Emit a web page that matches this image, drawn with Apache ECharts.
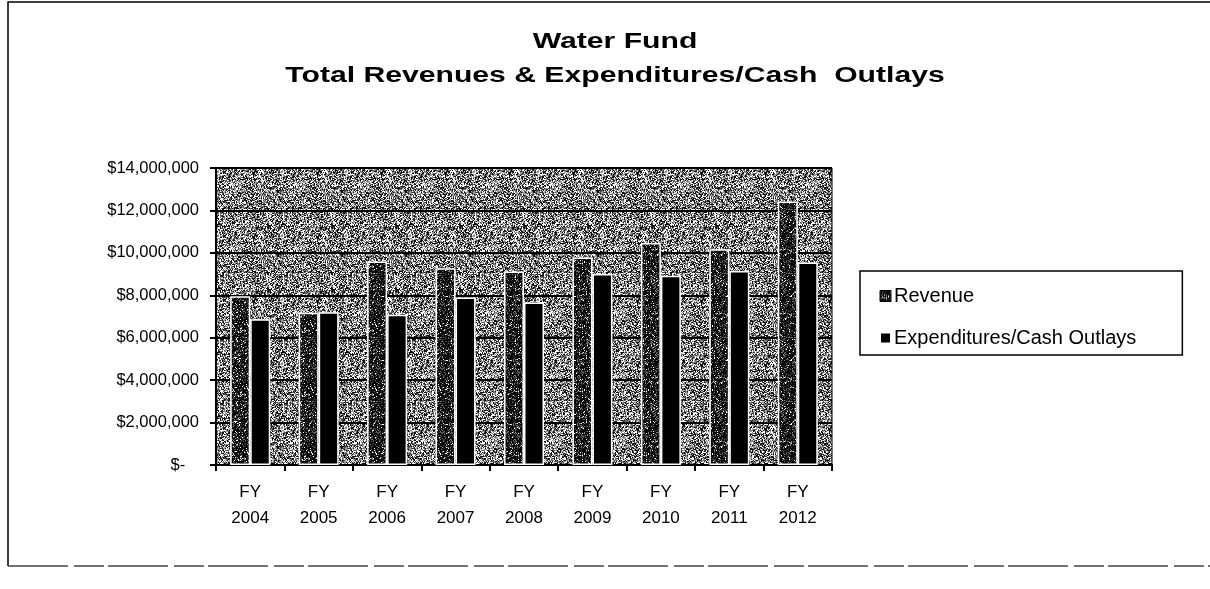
<!DOCTYPE html>
<html>
<head>
<meta charset="utf-8">
<script src="https://cdn.jsdelivr.net/npm/echarts@6/dist/echarts.min.js"></script>
<style>
  html, body { margin: 0; padding: 0; background: #fff; }
  #chart { width: 1210px; height: 589px; }
</style>
</head>
<body>
<div id="chart"></div>
<script>
// Fiscal years shown on the category axis
const fiscalYears = ['FY\n2004', 'FY\n2005', 'FY\n2006', 'FY\n2007', 'FY\n2008',
                     'FY\n2009', 'FY\n2010', 'FY\n2011', 'FY\n2012'];
// Total revenue per fiscal year (USD)
const revenue = [7950000, 7180000, 9590000, 9280000, 9120000, 9780000, 10460000, 10170000, 12420000];
// Expenditures / cash outlays per fiscal year (USD)
const expenditures = [6870000, 7200000, 7080000, 7890000, 7660000, 9000000, 8920000, 9150000, 9540000];
// Value-axis tick values
const yTicks = [0, 2000000, 4000000, 6000000, 8000000, 10000000, 12000000, 14000000];
// Chart heading, one entry per line
const titleLines = ['Water Fund', 'Total Revenues & Expenditures/Cash  Outlays'];

const FONT = '"Liberation Sans", Arial, sans-serif';

// Stippled tiles that imitate the spreadsheet pattern fills.
// A fixed integer hash decides each pixel, so the texture is the same every time.
function hash(x, y) {
  let h = (x * 374761393 + y * 668265263) | 0;
  h = (h ^ (h >>> 13)) * 1274126177 | 0;
  return ((h ^ (h >>> 16)) >>> 0) % 100;
}
function makeTile(size, pick) {
  const c = document.createElement('canvas');
  c.width = size; c.height = size;
  const g = c.getContext('2d');
  for (let y = 0; y < size; y++) {
    for (let x = 0; x < size; x++) {
      g.fillStyle = pick(hash(x, y));
      g.fillRect(x, y, 1, 1);
    }
  }
  return c;
}
const plotTile = makeTile(64, v => v < 28 ? '#ffffff' : v < 52 ? '#9a9a9a' : v < 70 ? '#5c5c5c' : '#111111');
const barTile = makeTile(64, v => v < 6 ? '#ffffff' : v < 20 ? '#7a7a7a' : v < 32 ? '#3a3a3a' : '#0a0a0a');

const chart = echarts.init(document.getElementById('chart'), null, { renderer: 'canvas' });

chart.setOption({
  backgroundColor: '#ffffff',
  animation: false,
  legend: {
    orient: 'vertical',
    left: 860,
    top: 271,
    padding: [15, 46, 7, 19],
    itemGap: 22,
    itemWidth: 11,
    itemHeight: 11,
    borderColor: '#000',
    borderWidth: 1.5,
    backgroundColor: '#fff',
    icon: 'rect',
    textStyle: { fontFamily: FONT, fontSize: 20, color: '#000', padding: [0, 0, 0, -2] },
    data: [
      { name: 'Revenue', itemStyle: { color: { image: barTile, repeat: 'repeat' }, borderColor: '#000', borderWidth: 1 } },
      { name: 'Expenditures/Cash Outlays', itemStyle: { color: '#000' } }
    ]
  },
  graphic: [
    {
      type: 'polyline',
      shape: { points: [[1210, 2], [8, 2], [8, 566]] },
      style: { stroke: '#000', lineWidth: 1.5, fill: null },
      silent: true
    },
    {
      type: 'line',
      shape: { x1: 8, y1: 566, x2: 1210, y2: 566 },
      style: { stroke: '#444', lineWidth: 1.5, lineDash: [60, 6, 30, 4] },
      silent: true
    },
    {
      // heading, drawn a little wider than the plain font
      type: 'group',
      x: 615,
      y: 0,
      scaleX: 1.37,
      silent: true,
      children: titleLines.map((t, i) => ({
        type: 'text',
        x: 0,
        y: 42 + i * 34,
        style: {
          text: t,
          fontFamily: FONT,
          fontWeight: 'bold',
          fontSize: 22,
          fill: '#000',
          align: 'center',
          verticalAlign: 'middle'
        }
      }))
    }
  ],
  grid: {
    left: 216,
    right: 378,
    top: 168,
    bottom: 124,
    show: true,
    backgroundColor: { image: plotTile, repeat: 'repeat' },
    borderColor: '#000',
    borderWidth: 1
  },
  xAxis: {
    type: 'category',
    data: fiscalYears,
    axisLine: { lineStyle: { color: '#000', width: 2 } },
    axisTick: { show: true, length: 6, lineStyle: { color: '#000', width: 2 } },
    axisLabel: {
      fontFamily: FONT,
      fontSize: 17,
      lineHeight: 26,
      color: '#000',
      margin: 14
    }
  },
  yAxis: {
    type: 'value',
    min: yTicks[0],
    max: yTicks[yTicks.length - 1],
    interval: yTicks[1] - yTicks[0],
    axisLine: { show: true, lineStyle: { color: '#000', width: 2 } },
    axisTick: { show: true, length: 6, lineStyle: { color: '#000', width: 2 } },
    splitLine: { show: true, lineStyle: { color: '#000', width: 2 } },
    axisLabel: {
      fontFamily: FONT,
      fontSize: 16.5,
      color: '#000',
      margin: 17,
      formatter: function (v) {
        if (v === 0) return '$-   ';
        return '$' + v.toLocaleString('en-US');
      }
    }
  },
  series: [
    {
      name: 'Revenue',
      type: 'bar',
      data: revenue,
      barWidth: 20,
      barGap: '0%',
      itemStyle: { color: { image: barTile, repeat: 'repeat' }, borderColor: '#fff', borderWidth: 1.5 }
    },
    {
      name: 'Expenditures/Cash Outlays',
      type: 'bar',
      data: expenditures,
      barWidth: 20,
      itemStyle: { color: '#000', borderColor: '#fff', borderWidth: 1.5 }
    }
  ]
});
</script>
</body>
</html>
